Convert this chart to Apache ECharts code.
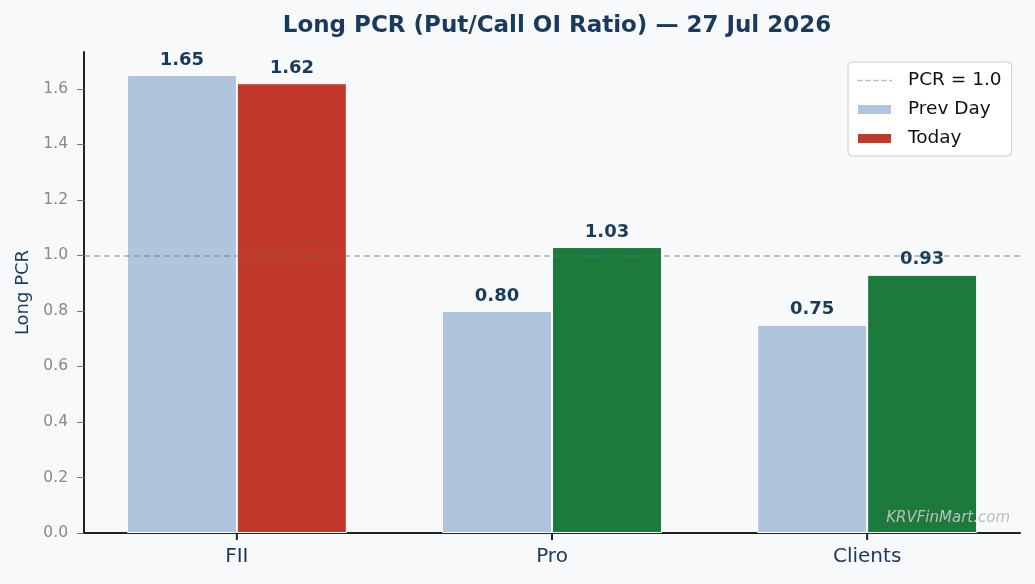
<!DOCTYPE html>
<html>
<head>
<meta charset="utf-8">
<script src="https://cdn.jsdelivr.net/npm/echarts@6/dist/echarts.min.js"></script>
<style>
  html, body { margin: 0; padding: 0; background: #f8f9fb; }
  #chart { width: 1035px; height: 584px; }
</style>
</head>
<body>
<div id="chart"></div>
<script>
// categories and values
var categories = ['FII', 'Pro', 'Clients'];
var catPos = [0, 1, 2];
var prevDay = [1.65, 0.80, 0.75];
var today = [1.62, 1.03, 0.93];
var yTicks = [0, 0.2, 0.4, 0.6, 0.8, 1.0, 1.2, 1.4, 1.6];
var refLevel = 1.0;

var navy = '#1a3a5c';
var red = '#c0392b';
var green = '#1b7a3c';

// x is a value axis so the category spacing matches the original margins
var prevData = prevDay.map(function (v, i) { return [catPos[i], v]; });
// today colour: red when pcr falls vs prev day, green when it rises
var todayData = today.map(function (v, i) {
    return { value: [catPos[i], v], itemStyle: { color: v < prevDay[i] ? red : green } };
});

// dashed legend icon (tiny corner dots keep the full 35x11 box)
var dashIcon = 'path://M0,0h0.01v0.01h-0.01z M34.99,10.99h0.01v0.01h-0.01z ' +
    'M0,4.8h5.5v1.4h-5.5z M8,4.8h5.5v1.4h-5.5z M16,4.8h5.5v1.4h-5.5z ' +
    'M24,4.8h5.5v1.4h-5.5z M32,4.8h3v1.4h-3z';

var valueLabel = {
    show: true,
    position: 'top',
    distance: 6,
    color: navy,
    fontWeight: 'bold',
    fontSize: 18,
    fontFamily: 'DejaVu Sans',
    formatter: function (p) { return p.value[1].toFixed(2); }
};

var watermark = {
    type: 'text',
    right: 25,
    top: 511,
    style: {
        text: 'KRVFinMart.com',
        fill: '#bdbdbd',
        font: 'italic 15px "DejaVu Sans"'
    },
    z: 100
};

var option = {
    backgroundColor: '#f8f9fb',
    textStyle: { fontFamily: 'DejaVu Sans' },
    title: {
        text: 'Long PCR (Put/Call OI Ratio) — 27 Jul 2026',
        left: 552,
        textAlign: 'center',
        top: 10,
        textStyle: { color: navy, fontSize: 23, fontWeight: 'bold', fontFamily: 'DejaVu Sans' }
    },
    legend: {
        orient: 'vertical',
        left: 848,
        top: 62,
        padding: [9, 10, 8, 8],
        itemGap: 10,
        itemWidth: 35,
        itemHeight: 11,
        backgroundColor: '#ffffff',
        borderColor: '#cccccc',
        borderWidth: 1,
        borderRadius: 4,
        textStyle: { color: '#111', fontSize: 18.5, fontFamily: 'DejaVu Sans', padding: [0, 0, 0, 11] },
        data: [
            { name: 'PCR = 1.0', icon: dashIcon },
            { name: 'Prev Day', icon: 'rect' },
            { name: 'Today', icon: 'rect' }
        ]
    },
    grid: { left: 84, right: 15, top: 52, bottom: 51 },
    xAxis: {
        type: 'value',
        min: -0.485,
        max: 2.485,
        splitLine: { show: false },
        axisLine: { onZero: false, lineStyle: { color: '#222', width: 2 } },
        axisTick: { show: false },
        axisLabel: {
            color: navy, fontSize: 20, margin: 14, fontFamily: 'DejaVu Sans',
            customValues: catPos,
            formatter: function (v) { return categories[Math.round(v)]; }
        }
    },
    yAxis: {
        type: 'value',
        min: 0,
        max: 1.7325,
        interval: 0.2,
        name: 'Long PCR',
        nameLocation: 'middle',
        nameGap: 51,
        nameTextStyle: { color: navy, fontSize: 18, fontFamily: 'DejaVu Sans' },
        splitLine: { show: false },
        axisLine: { show: true, onZero: false, lineStyle: { color: '#222', width: 2 } },
        axisTick: { show: true, length: 7, customValues: yTicks, lineStyle: { color: '#777' } },
        axisLabel: {
            color: '#888', fontSize: 15.5, margin: 16, fontFamily: 'DejaVu Sans',
            customValues: yTicks,
            formatter: function (v) { return v.toFixed(1); }
        }
    },
    graphic: [watermark],
    series: [
        {
            name: 'PCR = 1.0',
            type: 'scatter',
            data: [],
            itemStyle: { color: '#a3b0c4' },
            markLine: {
                silent: true,
                symbol: 'none',
                label: { show: false },
                lineStyle: { type: [6, 4], color: '#5f7595', opacity: 0.55, width: 1.5 },
                data: [{ yAxis: refLevel }]
            },
            z: 10
        },
        {
            name: 'Prev Day',
            type: 'bar',
            data: prevData,
            barWidth: 110,
            barGap: 0,
            itemStyle: { color: '#b0c4de', borderColor: '#ffffff', borderWidth: 1 },
            label: valueLabel,
            z: 2
        },
        {
            name: 'Today',
            type: 'bar',
            data: todayData,
            barWidth: 110,
            itemStyle: { color: red, borderColor: '#ffffff', borderWidth: 1 },
            label: valueLabel,
            z: 2
        }
    ]
};

var myChart = echarts.init(document.getElementById('chart'));
myChart.setOption(option);

// category tick marks under the x axis, positioned through the chart's own scales
var tickMarks = catPos.map(function (c) {
    var p = myChart.convertToPixel({ gridIndex: 0 }, [c, 0]);
    return {
        type: 'rect',
        shape: { x: p[0] - 1, y: p[1], width: 2, height: 7 },
        style: { fill: '#222' },
        z: 50
    };
});
myChart.setOption({ graphic: [watermark].concat(tickMarks) }, { replaceMerge: ['graphic'] });
</script>
</body>
</html>
